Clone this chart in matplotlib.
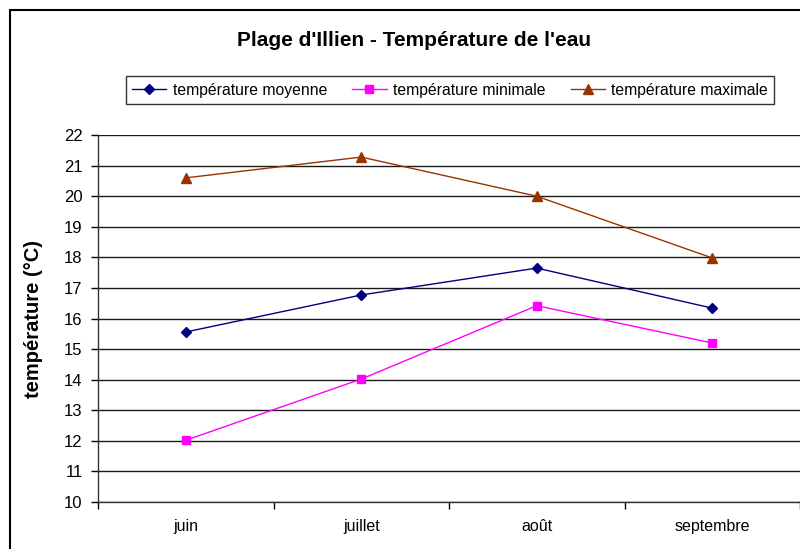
import numpy as np
import matplotlib
matplotlib.use("Agg")
from matplotlib import pyplot as plt
from matplotlib.patches import Rectangle

plt.rcParams['font.family'] = ['Liberation Sans', 'DejaVu Sans']

mois = ["juin", "juillet", "août", "septembre"]
temp_moyenne = [15.56, 16.77, 17.65, 16.34]
temp_minimale = [12.02, 14.02, 16.42, 15.2]
temp_maximale = [20.6, 21.28, 20.0, 17.98]

fig = plt.figure(figsize=(8, 5.49), dpi=100)
ax = fig.add_axes([0.1225, 0.0856, 0.8775, 0.6684])

x = np.arange(len(mois))
ax.plot(x, temp_moyenne, color='#000080', marker='D', markersize=5, lw=1,
        label='température moyenne')
ax.plot(x, temp_minimale, color='#FF00FF', marker='s', markersize=5.5, lw=1,
        label='température minimale')
ax.plot(x, temp_maximale, color='#993300', marker='^', markersize=6.5, lw=1,
        label='température maximale')

ax.set_xlim(-0.5, 3.5)
ax.set_ylim(10, 22)
ax.set_yticks(np.arange(10, 23, 1))
ax.set_xticks(x)
ax.set_xticklabels(mois)
ax.set_xticks(np.arange(-0.5, 4, 1), minor=True)
ax.tick_params(axis='x', which='major', length=0, pad=12, labelsize=11.5)
ax.tick_params(axis='x', which='minor', length=5, direction='out', width=1)
ax.tick_params(axis='y', length=5, direction='out', width=1, labelsize=12, pad=6)
ax.grid(axis='y', color='#1a1a1a', lw=1)
ax.set_axisbelow(True)
for s in ['top', 'right']:
    ax.spines[s].set_visible(False)
for s in ['left', 'bottom']:
    ax.spines[s].set_linewidth(1)
    ax.spines[s].set_color('#333333')

ax.set_ylabel('température (°C)', fontsize=14.5, fontweight='bold')
ax.yaxis.set_label_coords(-0.078, 0.5)

fig.text(0.518, 1 - 40 / 549, "Plage d'Illien - Température de l'eau",
         ha='center', va='center', fontsize=15, fontweight='bold')

leg = fig.legend(loc='center', bbox_to_anchor=(450 / 800, 1 - 90 / 549), ncol=3,
                 fontsize=11.3, frameon=True, fancybox=False, edgecolor='black',
                 handlelength=2.2, columnspacing=1.6, handletextpad=0.4,
                 borderpad=0.4)
leg.get_frame().set_linewidth(1)

fig.patches.append(Rectangle((10 / 800, -0.05), 1.0, 1 - 10 / 549 + 0.05,
                             transform=fig.transFigure, fill=False,
                             edgecolor='black', lw=1.5))

fig.savefig('out.png', dpi=100)
